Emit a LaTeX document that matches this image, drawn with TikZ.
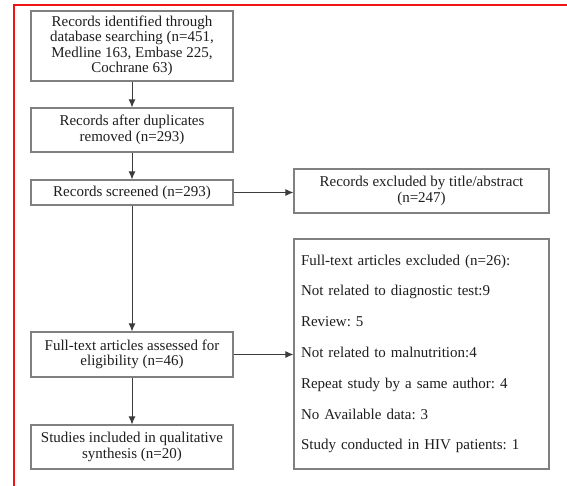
\documentclass[tikz,border=0pt]{standalone}
\usepackage{fontspec}
\setmainfont{Liberation Serif}
\usepackage{tikz}
\usetikzlibrary{arrows.meta, positioning}
\frenchspacing
\definecolor{boxgray}{RGB}{128,128,128}
\definecolor{arrdark}{RGB}{60,60,60}
\definecolor{framered}{RGB}{240,20,20}
\definecolor{txtdark}{RGB}{30,30,30}
\tikzset{
  box/.style={rectangle, draw=boxgray, fill=white, minimum width=202pt,
    align=center, inner sep=0pt, line width=1.1pt, text=txtdark,
    font=\fontsize{15}{15.4}\selectfont},
  sidebox/.style={box, minimum width=255pt},
  listbox/.style={rectangle, draw=boxgray, fill=white, text width=241pt,
    align=left, inner xsep=7pt, inner ysep=0pt, line width=1.1pt, text=txtdark,
    font=\fontsize{15}{30.8}\selectfont},
  arrow/.style={-{Latex[length=8pt,width=7pt]}, line width=1pt, color=arrdark}
}

\begin{document}
\begin{tikzpicture}[x=1pt, y=-1pt]
\useasboundingbox (0,0) rectangle (567,486);
% frame
\draw[framered, line width=2pt] (13,5.5) -- (567,5.5);
\draw[framered, line width=2pt] (14,5) -- (14,486);
% main column
\node[box, minimum height=70pt] (ident) at (132,46)
  {Records identified through\\database searching (n=451,\\Medline 163, Embase 225,\\Cochrane 63)};
\node[box, minimum height=44pt] (dupl) at (132,130)
  {Records after duplicates\\removed (n=293)};
\node[box, minimum height=25pt] (screen) at (132,192.5)
  {Records screened (n=293)};
\node[box, minimum height=45pt] (full) at (132,354.5)
  {Full-text articles assessed for\\eligibility (n=46)};
\node[box, minimum height=44pt] (incl) at (132,447)
  {Studies included in qualitative\\synthesis (n=20)};
% exclusions
\node[sidebox, minimum height=44pt] (exscreen) at (421.5,191)
  {Records excluded by title/abstract\\(n=247)};
\node[listbox, minimum height=230pt] (exfull) at (421.5,354)
  {Full-text articles excluded (n=26):\\
   Not related to diagnostic test:9\\
   Review: 5\\
   Not related to malnutrition:4\\
   Repeat study by a same author: 4\\
   No Available data: 3\\
   Study conducted in HIV patients: 1};
% arrows
\draw[arrow] (ident) -- (dupl);
\draw[arrow] (dupl) -- (screen);
\draw[arrow] (screen) -- (full);
\draw[arrow] (full) -- (incl);
\draw[arrow] (screen.east) -- (screen.east -| exscreen.west);
\draw[arrow] (full.east) -- (full.east -| exfull.west);
\end{tikzpicture}
\end{document}
